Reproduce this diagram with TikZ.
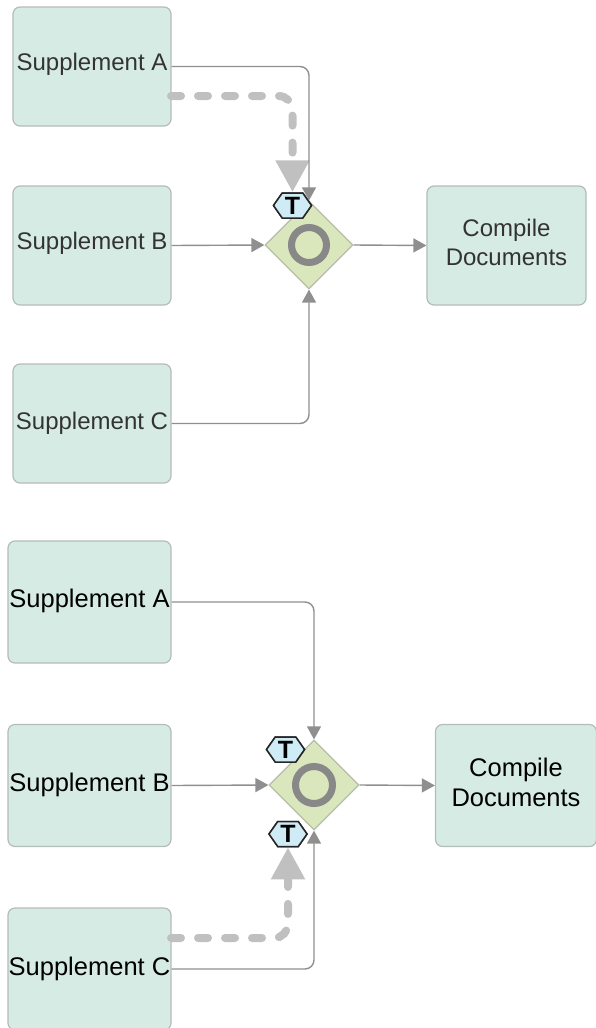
\documentclass[tikz,border=0pt]{standalone}
\usepackage{fontspec}
\setmainfont{Liberation Sans}
\usetikzlibrary{arrows.meta,shapes.geometric,shapes.symbols}
\definecolor{taskfill}{HTML}{D6EBE4}
\definecolor{taskline}{HTML}{B4BCB9}
\definecolor{gatefill}{HTML}{DAE6BC}
\definecolor{gateline}{HTML}{B6BDAA}
\definecolor{ringgray}{HTML}{888888}
\definecolor{flowgray}{HTML}{8F8F8F}
\definecolor{tokengray}{HTML}{C0C0C0}
\definecolor{hexfill}{HTML}{CFEBF5}
\tikzset{
    taskbox/.style={draw=taskline,line width=1.2pt,fill=taskfill,rounded corners=7pt,inner sep=0pt,align=center},
    gatebox/.style={diamond,aspect=1,draw=gateline,line width=1.2pt,fill=gatefill,inner sep=0pt},
    ringmark/.style={circle,draw=ringgray,line width=7pt,inner sep=0pt,minimum size=35pt},
    hexmark/.style={signal,signal to=east and west,signal pointer angle=110,draw=black!85,line width=1.5pt,fill=hexfill,
        inner sep=0pt,minimum width=38pt,minimum height=25pt,font=\fontsize{25}{25}\selectfont\bfseries},
    flow/.style={draw=flowgray,line width=1.4pt,rounded corners=9pt,-{Triangle[length=13pt,width=14pt]}},
    token/.style={draw=tokengray,line width=8pt,line cap=round,dash pattern=on 10pt off 17pt,rounded corners=14pt,
        -{Triangle[length=32pt,width=32pt,fill=tokengray,line cap=butt]}}
}
\newcommand{\uplabel}[2][4pt]{\smash{\raisebox{-#1}{#2}}}
\begin{document}
\begin{tikzpicture}[x=1pt,y=-1pt]
    \useasboundingbox (0,0) rectangle (596,1028);
    \begin{scope}[every node/.append style={text=black!80,font=\fontsize{24}{29}\selectfont}]
        \node[taskbox,minimum width=158pt,minimum height=119pt] (supA) at (92,66.5) {\uplabel{Supplement A}};
        \node[taskbox,minimum width=158pt,minimum height=119pt] (supB) at (92,245.5) {\uplabel{Supplement B}};
        \node[taskbox,minimum width=158pt,minimum height=119pt] (supC) at (92,423.5) {\uplabel[6pt]{Supplement C}};
        \node[taskbox,minimum width=159pt,minimum height=119pt] (compA) at (506.5,245.5) {\raisebox{10pt}{\begin{tabular}{@{}c@{}}Compile\\Documents\end{tabular}}};
    \end{scope}
    \node[gatebox,minimum size=88pt] (gateA) at (309,245) {};
    \node[ringmark] (ringA) at (gateA) {};
    \coordinate (startA) at (171,96);
    \node[hexmark] (hexA) at (292.5,205.5) {T};
    \draw[token] (startA) -| (hexA.north);
    \draw[flow] (supA.east) -| (gateA.north);
    \draw[flow] (supB.east) -- (gateA.west);
    \draw[flow] (supC.east) -| (gateA.south);
    \draw[flow] (gateA.east) -- (compA.west);
    \node[hexmark] at (hexA) {T};

    \begin{scope}[every node/.append style={text=black,font=\fontsize{25.5}{30}\selectfont}]
        \node[taskbox,minimum width=163pt,minimum height=122pt] (supD) at (89.5,602) {\uplabel[5pt]{Supplement A}};
        \node[taskbox,minimum width=163pt,minimum height=122pt] (supE) at (89.5,785.5) {\uplabel[5.5pt]{Supplement B}};
        \node[taskbox,minimum width=163pt,minimum height=122pt] (supF) at (89.5,969) {\uplabel[6pt]{Supplement C}};
        \node[taskbox,minimum width=161pt,minimum height=122pt] (compB) at (516,785.5) {\raisebox{6pt}{\begin{tabular}{@{}c@{}}Compile\\Documents\end{tabular}}};
    \end{scope}
    \node[gatebox,minimum size=90pt] (gateB) at (314,785) {};
    \node[ringmark,minimum size=37pt] (ringB) at (gateB) {};
    \coordinate (startB) at (171,938);
    \node[hexmark] (hexB) at (285.5,749.5) {T};
    \node[hexmark] (hexC) at (288,834) {T};
    \draw[token] (startB) -| (hexC.south);
    \draw[flow] (supD.east) -| (gateB.north);
    \draw[flow] (supE.east) -- (gateB.west);
    \draw[flow] (supF.east) -| (gateB.south);
    \draw[flow] (gateB.east) -- (compB.west);
    \node[hexmark] at (hexB) {T};
    \node[hexmark] at (hexC) {T};
\end{tikzpicture}
\end{document}
